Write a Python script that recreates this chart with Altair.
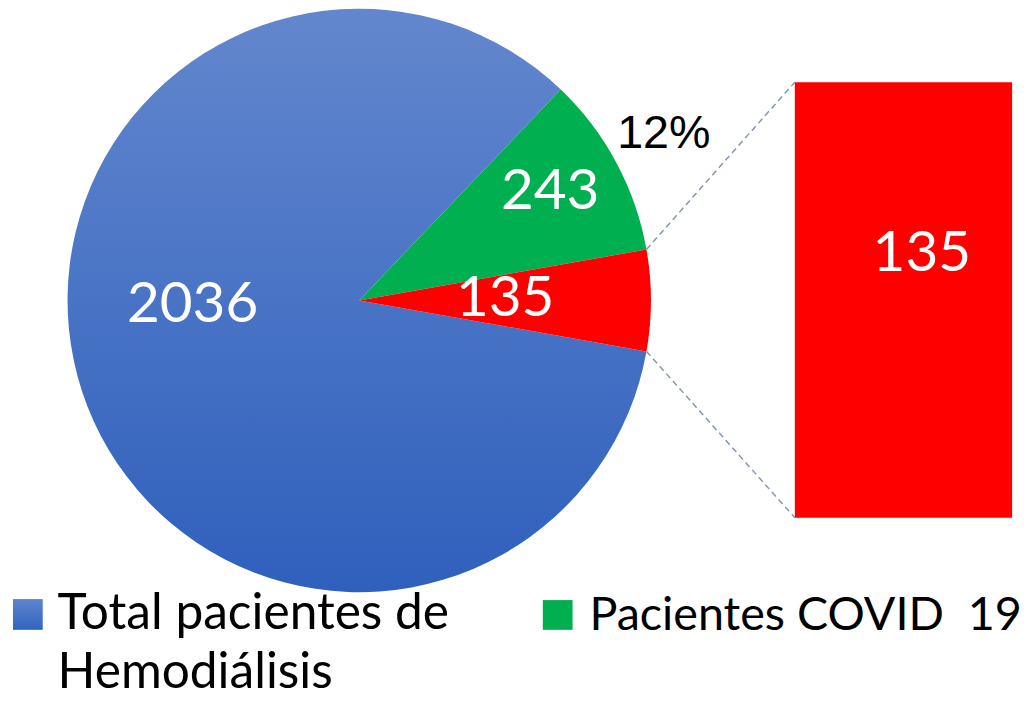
import math
import altair as alt
import pandas as pd

# ---------------- data ----------------
keys = ["total", "covid", "other"]
categories = ["Total pacientes de Hemodiálisis", "Pacientes COVID  19", "Otros"]
values = [2036, 243, 135]
draw_order = [2, 0, 1]          # green, red, then blue clockwise
bar_values = [135]
pct_text = "12%"
legend_keys = ["total", "covid"]
legend_labels = ["Total pacientes de\nHemodiálisis", "Pacientes COVID\u00a0 19"]

# ---------------- style / layout ----------------
OFF = 8
W, H = 1035 - OFF, 701 - OFF
CX, CY, R = 362 - OFF, 300 - OFF, 294
BAR_L, BAR_R, BAR_T, BAR_B = 801 - OFF, 1020 - OFF, 80 - OFF, 519 - OFF
BAR_LABEL_X, BAR_LABEL_Y = 929 - OFF, 253 - OFF
GREEN, RED = "#00b050", "#ff0000"
BLUE_GRAD = {"gradient": "linear", "x1": 0, "y1": 0, "x2": 0, "y2": 1,
             "stops": [{"offset": 0, "color": "#6387ce"},
                       {"offset": 1, "color": "#2f60bc"}]}
LEG_BLUE_GRAD = {"gradient": "linear", "x1": 0, "y1": 0, "x2": 0, "y2": 1,
                 "stops": [{"offset": 0, "color": "#5f84cc"},
                           {"offset": 1, "color": "#3065be"}]}
LABEL_R = [168, 221, 147]
LABEL_SHIFT_DEG = [16.5, -1.3, -0.4]
PCT_R = 346
PCT_DX, PCT_DY = 2, -4
NUM_FONT, NUM_SIZE = "Lato", 57
LEG_FONT = "Lato"
LEG_SIZES = [50, 47]
LEG_SQ = [(13 - OFF, 43 - OFF, 601 - OFF, 632 - OFF), (547 - OFF, 577 - OFF, 602 - OFF, 632 - OFF)]
LEG_TXT = [(58 - OFF, 631 - OFF), (594 - OFF, 632 - OFF)]
LEG_LINE_H = 60
LINE_COLOR = "#8497b0"

total = sum(values)
frac = {k: v / total for k, v in zip(keys, values)}
start = math.pi / 2 - frac["other"] * math.pi - frac["covid"] * 2 * math.pi

# cumulative angles in drawing order
order_idx = sorted(range(len(keys)), key=lambda i: draw_order[i])
mid = {}
bounds = {}
acc = start
for i in order_idx:
    a0 = acc
    a1 = acc + values[i] / total * 2 * math.pi
    bounds[keys[i]] = (a0, a1)
    mid[keys[i]] = (a0 + a1) / 2
    acc = a1

pie_df = pd.DataFrame({"key": keys, "cat": categories, "value": values, "ord": draw_order})

fill_cond = alt.FillValue(
    value=RED,
    condition=[{"test": "datum.key === 'total'", "value": BLUE_GRAD},
               {"test": "datum.key === 'covid'", "value": GREEN}],
)

arcs = alt.Chart(pie_df).mark_arc(outerRadius=R).encode(
    theta=alt.Theta("value:Q", stack=True,
                    scale=alt.Scale(domain=[0, total], range=[start, start + 2 * math.pi])),
    order=alt.Order("ord:Q"),
    fill=fill_cond,
    x=alt.value(CX),
    y=alt.value(CY),
)

# pie value labels
lab_rows = []
for i, k in enumerate(keys):
    a = mid[k] + math.radians(LABEL_SHIFT_DEG[i])
    lab_rows.append({"txt": str(values[i]),
                     "px": CX + LABEL_R[i] * math.sin(a),
                     "py": CY - LABEL_R[i] * math.cos(a)})
lab_df = pd.DataFrame(lab_rows)
pie_labels = alt.Chart(lab_df).mark_text(
    font=NUM_FONT, fontSize=NUM_SIZE, color="white", align="center", baseline="middle"
).encode(
    x=alt.X("px:Q", scale=None, axis=None),
    y=alt.Y("py:Q", scale=None, axis=None),
    text="txt:N",
)

# percentage label
a = mid["covid"]
pct_df = pd.DataFrame({"txt": [pct_text],
                       "px": [CX + PCT_R * math.sin(a) + PCT_DX],
                       "py": [CY - PCT_R * math.cos(a) + PCT_DY]})
pct_label = alt.Chart(pct_df).mark_text(
    font="Liberation Sans", fontSize=47, color="black", align="center", baseline="middle"
).encode(
    x=alt.X("px:Q", scale=None, axis=None),
    y=alt.Y("py:Q", scale=None, axis=None),
    text="txt:N",
)

# bar of the split-out slice
bar_df = pd.DataFrame({"value": bar_values})
bar = alt.Chart(bar_df).mark_rect(color=RED).encode(
    x=alt.value(BAR_L),
    x2=alt.value(BAR_R),
    y=alt.Y("value:Q", scale=alt.Scale(domain=[0, max(bar_values)], range=[BAR_B, BAR_T]), axis=None),
    y2=alt.datum(0),
)
bar_label = alt.Chart(bar_df).mark_text(
    font=NUM_FONT, fontSize=NUM_SIZE, color="white", align="center", baseline="middle"
).encode(
    x=alt.value(BAR_LABEL_X),
    y=alt.value(BAR_LABEL_Y),
    text="value:Q",
)

# connector lines from pie edge to bar corners
b0, b1 = bounds["other"]
con_df = pd.DataFrame({
    "x1": [CX + R * math.sin(b0), CX + R * math.sin(b1)],
    "y1": [CY - R * math.cos(b0), CY - R * math.cos(b1)],
    "x2": [BAR_L, BAR_L],
    "y2": [BAR_T, BAR_B],
})
connectors = alt.Chart(con_df).mark_rule(
    color=LINE_COLOR, strokeWidth=1.5, strokeDash=[6, 4]
).encode(
    x=alt.X("x1:Q", scale=None, axis=None),
    y=alt.Y("y1:Q", scale=None, axis=None),
    x2="x2:Q",
    y2="y2:Q",
)

# legend
leg_sq_df = pd.DataFrame({
    "key": legend_keys,
    "x0": [s[0] for s in LEG_SQ], "x1": [s[1] for s in LEG_SQ],
    "y0": [s[2] for s in LEG_SQ], "y1": [s[3] for s in LEG_SQ],
})
leg_fill = alt.FillValue(
    value=GREEN,
    condition=[{"test": "datum.key === 'total'", "value": LEG_BLUE_GRAD}],
)
leg_squares = alt.Chart(leg_sq_df).mark_rect().encode(
    x=alt.X("x0:Q", scale=None, axis=None),
    x2="x1:Q",
    y=alt.Y("y0:Q", scale=None, axis=None),
    y2="y1:Q",
    fill=leg_fill,
)
leg_txt_df = pd.DataFrame({
    "txt": legend_labels,
    "px": [t[0] for t in LEG_TXT],
    "py": [t[1] for t in LEG_TXT],
    "fs": LEG_SIZES,
})
leg_text = alt.Chart(leg_txt_df).mark_text(
    font=LEG_FONT, color="black", align="left",
    baseline="alphabetic", lineBreak="\n", lineHeight=LEG_LINE_H,
).encode(
    x=alt.X("px:Q", scale=None, axis=None),
    y=alt.Y("py:Q", scale=None, axis=None),
    size=alt.Size("fs:Q", scale=None, legend=None),
    text="txt:N",
)

chart = alt.layer(
    arcs, pie_labels, pct_label, connectors, bar, bar_label, leg_squares, leg_text
).resolve_scale(
    x="independent", y="independent"
).properties(
    width=W, height=H, autosize=alt.AutoSizeParams(type="none"), padding=0,
    background="white",
).configure_view(stroke=None)

chart.save("out.html", embed_options={"renderer": "svg", "actions": False})
